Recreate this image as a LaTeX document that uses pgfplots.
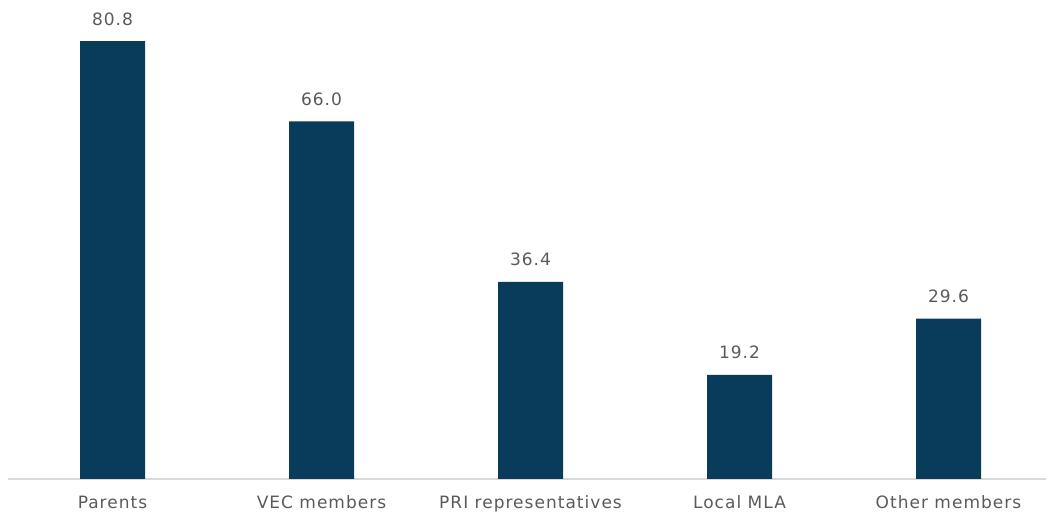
\documentclass[border=0pt]{standalone}
\usepackage{pgfplots}
\pgfplotsset{compat=1.18}
\usepackage{fontspec}
\setmainfont[LetterSpace=6]{DejaVu Sans}
\definecolor{barc}{HTML}{083C5A}
\definecolor{txt}{HTML}{5A5A5A}
\definecolor{axc}{HTML}{D9D9D9}
\begin{document}
\begin{tikzpicture}[x=1pt,y=1pt]
\useasboundingbox (0,0) rectangle (1046,513);
\begin{axis}[
  at={(8pt,34pt)}, anchor=south west,
  scale only axis,
  width=1038pt, height=479pt,
  xmin=-0.5, xmax=4.4665,
  ymin=0, ymax=88.4,
  axis x line=bottom, axis y line=none,
  x axis line style={-, draw=axc, line width=1.5pt},
  ytick=\empty,
  xtick={0,1,2,3,4},
  xticklabels={Parents, VEC members, PRI representatives, Local MLA, Other members},
  major tick length=0pt,
  xticklabel style={font=\fontsize{17}{20}\selectfont, text=txt, anchor=base, inner sep=0pt, yshift=-30pt},
  ybar, bar width=65pt, bar shift=0pt,
  nodes near coords,
  nodes near coords style={font=\fontsize{17}{20}\selectfont, text=txt, anchor=base, inner sep=0pt, yshift=16pt, /pgf/number format/.cd, fixed, fixed zerofill, precision=1, assume math mode=true},
  clip=false,
]
\addplot[fill=barc, draw=none] coordinates {(0,80.8) (1,66.0) (2,36.4) (3,19.2) (4,29.6)};
\end{axis}
\end{tikzpicture}
\end{document}
